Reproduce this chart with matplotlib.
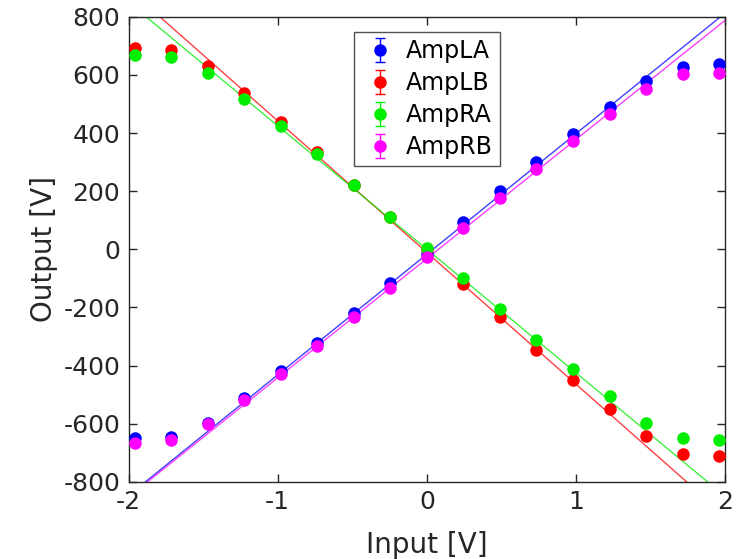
import matplotlib
matplotlib.use("Agg")
import matplotlib.pyplot as plt
import numpy as np

x_in = [-1.96, -1.715, -1.47, -1.225, -0.98, -0.735, -0.49, -0.245, 0.0,
        0.245, 0.49, 0.735, 0.98, 1.225, 1.47, 1.715, 1.96]

amp_la = [-650, -645, -597, -510, -418, -322, -218, -115, -15,
          95, 200, 300, 397, 490, 578, 628, 637]
amp_lb = [693, 687, 632, 537, 438, 335, 220, 112, 0,
          -118, -232, -345, -450, -550, -643, -703, -710]
amp_ra = [670, 662, 607, 518, 425, 327, 222, 112, 5,
          -100, -207, -312, -412, -505, -597, -648, -655]
amp_rb = [-665, -655, -602, -518, -428, -333, -232, -132, -25,
          75, 178, 278, 373, 465, 550, 602, 607]

series_names = ["AmpLA", "AmpLB", "AmpRA", "AmpRB"]
series_colors = ["#0000ff", "#ff0000", "#00ee00", "#ff00ff"]
fit_slopes = [415, -453, -425, 410]
fit_intercepts = [-17, -11, 0, -32]
y_err = 4

xticks = [-2, -1, 0, 1, 2]
yticks = [-800, -600, -400, -200, 0, 200, 400, 600, 800]

fg = "#262626"
plt.rcParams["font.family"] = ["DejaVu Sans"]

fig = plt.figure(figsize=(7.43, 5.59), dpi=100)
ax = fig.add_axes([0.173, 0.138, 0.803, 0.832])

data = [amp_la, amp_lb, amp_ra, amp_rb]
xl = np.array([-2.0, 2.0])
for name, col, ys, m, b in zip(series_names, series_colors, data, fit_slopes, fit_intercepts):
    ax.errorbar(x_in, ys, yerr=y_err, fmt="o", color=col, ecolor=col, markersize=8,
                capsize=3.5, elinewidth=1, label=name, zorder=3)
    ax.plot(xl, m * xl + b, color=col, lw=1.0, alpha=0.75, zorder=2)

ax.set_xlim(-2, 2)
ax.set_ylim(-800, 800)
ax.set_xticks(xticks)
ax.set_yticks(yticks)
ax.set_xticklabels([str(t) for t in xticks])
ax.set_yticklabels([str(t) for t in yticks])
ax.tick_params(direction="in", top=True, right=True, length=6, width=1,
               labelsize=18, colors=fg, pad=6)
for s in ax.spines.values():
    s.set_color(fg)
    s.set_linewidth(1.0)
ax.set_xlabel("Input [V]", fontsize=20, color=fg, labelpad=12)
ax.set_ylabel("Output [V]", fontsize=20, color=fg, labelpad=4)

leg = ax.legend(loc="upper center", bbox_to_anchor=(0.5, 0.967), fontsize=17,
                frameon=True, fancybox=False, edgecolor=fg, handletextpad=0.33,
                borderpad=0.3, labelspacing=0.34, handlelength=1.6, borderaxespad=0,
                labelcolor="black")
leg.get_frame().set_linewidth(1.0)

fig.savefig("out.png", dpi=100)
